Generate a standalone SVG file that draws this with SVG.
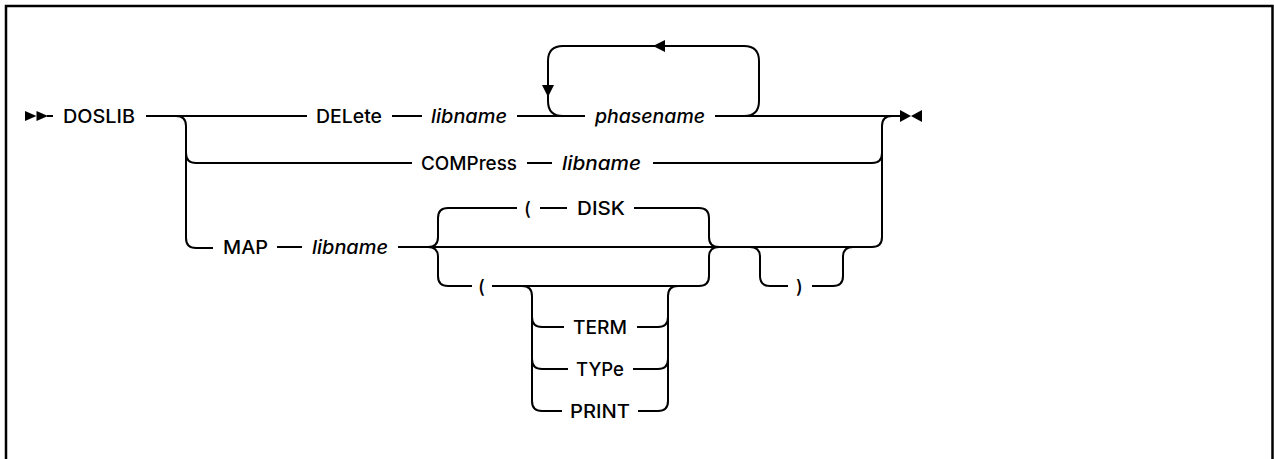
<svg xmlns="http://www.w3.org/2000/svg" width="1274" height="459" viewBox="0 0 1274 459">
<style>
  .ln { fill: none; stroke: #000; stroke-width: 2; stroke-linecap: butt; }
  .ah { fill: #000; stroke: none; }
  .t { font-family: Inter, "Liberation Sans", Arial, sans-serif; font-size: 18.5px; font-weight: 500; fill: #000; }
  .i { font-style: italic; }
  .frame { fill: none; stroke: #000; stroke-width: 2.5; }
</style>
<rect class="frame" x="6" y="6" width="1266.5" height="470"/>

<g id="connectors">
  <!-- start marker -->
  <polygon class="ah" points="25,111 36.5,116 25,121"/>
  <polygon class="ah" points="36.5,111 48,116 36.5,121"/>
  <path class="ln" d="M 47,116 H 53"/>
  <!-- main row -->
  <path class="ln" d="M 146,116 H 307"/>
  <path class="ln" d="M 176,116 q 10,0 10,10 V 238 q 0,10 10,10 H 213"/>
  <path class="ln" d="M 186,153 q 0,10 10,10 H 412"/>
  <path class="ln" d="M 392,116 H 422"/>
  <path class="ln" d="M 517,116 H 585"/>
  <path class="ln" d="M 715,116 H 901"/>
  <!-- repeat loop -->
  <path class="ln" d="M 563,116 q -15,0 -15,-15 V 61 q 0,-15 15,-15 H 744 q 15,0 15,15 V 101 q 0,15 -15,15"/>
  <polygon class="ah" points="653,46 665,40 665,52"/>
  <polygon class="ah" points="542,85 554,85 548,97"/>
  <!-- COMPress row -->
  <path class="ln" d="M 527,163 H 552"/>
  <path class="ln" d="M 653,163 H 872 q 10,0 10,-10"/>
  <!-- right main vertical -->
  <path class="ln" d="M 872,247 q 10,0 10,-10 V 126 q 0,-10 10,-10"/>
  <!-- MAP row -->
  <path class="ln" d="M 277,247 H 302"/>
  <path class="ln" d="M 398,247 H 872"/>
  <!-- left brace of DISK group -->
  <path class="ln" d="M 428,247 q 10,0 10,-10 V 218 q 0,-10 10,-10 H 517"/>
  <path class="ln" d="M 428,247 q 10,0 10,10 V 276 q 0,10 10,10 H 472"/>
  <!-- top DISK row -->
  <path class="ln" d="M 540,208 H 567"/>
  <path class="ln" d="M 634,208 H 699 q 10,0 10,10 V 237 q 0,10 10,10"/>
  <!-- bottom ( row -->
  <path class="ln" d="M 492,286 H 699 q 10,0 10,-10 V 257 q 0,-10 10,-10"/>
  <!-- inner choice group -->
  <path class="ln" d="M 522,286 q 10,0 10,10 V 401 q 0,10 10,10 H 562"/>
  <path class="ln" d="M 532,317 q 0,10 10,10 H 564"/>
  <path class="ln" d="M 532,359 q 0,10 10,10 H 568"/>
  <path class="ln" d="M 638,411 H 658 q 10,0 10,-10 V 296 q 0,-10 10,-10"/>
  <path class="ln" d="M 637,327 H 658 q 10,0 10,-10"/>
  <path class="ln" d="M 633,369 H 658 q 10,0 10,-10"/>
  <!-- optional ) group -->
  <path class="ln" d="M 750,247 q 10,0 10,10 V 276 q 0,10 10,10 H 788"/>
  <path class="ln" d="M 812,286 H 833 q 10,0 10,-10 V 257 q 0,-10 10,-10"/>
  <!-- end marker -->
  <polygon class="ah" points="900,110 911,116 900,122"/>
  <polygon class="ah" points="922,110 911,116 922,122"/>
</g>

<g id="n-doslib"><text class="t" x="63" y="122.5" textLength="72" lengthAdjust="spacingAndGlyphs">DOSLIB</text></g>
<g id="n-delete"><text class="t" x="316" y="122.5" textLength="66" lengthAdjust="spacingAndGlyphs">DELete</text></g>
<g id="n-libname1"><text class="t i" x="431" y="122.5" textLength="76" lengthAdjust="spacingAndGlyphs">libname</text></g>
<g id="n-phasename"><text class="t i" x="595" y="122.5" textLength="110" lengthAdjust="spacingAndGlyphs">phasename</text></g>
<g id="n-compress"><text class="t" x="421" y="169.5" textLength="96" lengthAdjust="spacingAndGlyphs">COMPress</text></g>
<g id="n-libname2"><text class="t i" x="562" y="169.5" textLength="79" lengthAdjust="spacingAndGlyphs">libname</text></g>
<g id="n-map"><text class="t" x="223" y="253.5" textLength="45" lengthAdjust="spacingAndGlyphs">MAP</text></g>
<g id="n-libname3"><text class="t i" x="312" y="253.5" textLength="76" lengthAdjust="spacingAndGlyphs">libname</text></g>
<g id="n-lparen1"><text class="t" x="524" y="214.5">(</text></g>
<g id="n-disk"><text class="t" x="577" y="214.5" textLength="48" lengthAdjust="spacingAndGlyphs">DISK</text></g>
<g id="n-lparen2"><text class="t" x="478" y="292.5">(</text></g>
<g id="n-term"><text class="t" x="573" y="333.5" textLength="54" lengthAdjust="spacingAndGlyphs">TERM</text></g>
<g id="n-type"><text class="t" x="576" y="375.5" textLength="48" lengthAdjust="spacingAndGlyphs">TYPe</text></g>
<g id="n-print"><text class="t" x="570" y="417.5" textLength="60" lengthAdjust="spacingAndGlyphs">PRINT</text></g>
<g id="n-rparen"><text class="t" x="796" y="292.5">)</text></g>
</svg>
